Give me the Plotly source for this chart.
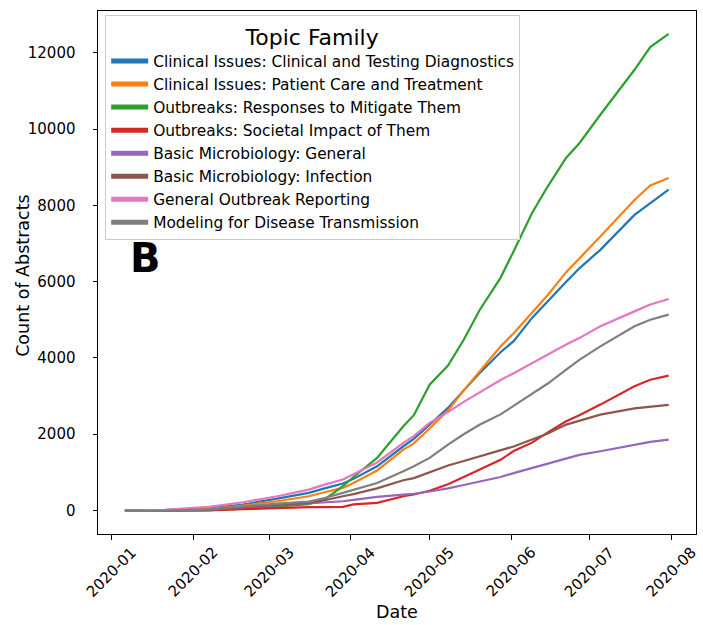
import plotly.graph_objects as go

# ---- data ----
dates = ["2020-01-06", "2020-01-21", "2020-02-07", "2020-02-20", "2020-03-04",
         "2020-03-16", "2020-03-22", "2020-03-29", "2020-04-02", "2020-04-11",
         "2020-04-21", "2020-04-25", "2020-05-01", "2020-05-08", "2020-05-14",
         "2020-05-20", "2020-05-28", "2020-06-02", "2020-06-09", "2020-06-15",
         "2020-06-22", "2020-06-27", "2020-07-05", "2020-07-18", "2020-07-24",
         "2020-07-31"]

series_names = [
    "Clinical Issues: Clinical and Testing Diagnostics",
    "Clinical Issues: Patient Care and Treatment",
    "Outbreaks: Responses to Mitigate Them",
    "Outbreaks: Societal Impact of Them",
    "Basic Microbiology: General",
    "Basic Microbiology: Infection",
    "General Outbreak Reporting",
    "Modeling for Disease Transmission",
]

diagnostics = [0, 10, 60, 157, 314, 463, 580, 707, 830, 1160, 1685, 1880, 2250, 2690,
               3150, 3600, 4150, 4440, 5050, 5500, 6000, 6350, 6834, 7751, 8057, 8410]
patient_care = [0, 5, 40, 131, 244, 375, 480, 594, 720, 1050, 1598, 1760, 2150, 2620,
                3150, 3650, 4300, 4650, 5200, 5650, 6250, 6600, 7183, 8143, 8520, 8716]
responses = [0, 0, 10, 50, 100, 170, 290, 637, 880, 1380, 2209, 2500, 3300, 3800,
             4477, 5250, 6100, 6800, 7800, 8500, 9250, 9628, 10375, 11554, 12150, 12497]
societal = [0, 0, 5, 36, 70, 87, 92, 97, 160, 200, 375, 420, 520, 690,
            880, 1080, 1330, 1560, 1780, 2050, 2340, 2500, 2777, 3257, 3430, 3537]
micro_general = [0, 0, 15, 87, 139, 190, 215, 244, 280, 359, 419, 440, 500, 580,
                 670, 760, 880, 980, 1120, 1230, 1380, 1460, 1554, 1729, 1800, 1860]
micro_infection = [0, 0, 20, 97, 157, 201, 270, 375, 430, 580, 794, 850, 1000, 1180,
                   1300, 1420, 1560, 1680, 1860, 2020, 2253, 2360, 2515, 2680, 2720, 2769]
outbreak_reporting = [0, 15, 97, 218, 375, 550, 680, 812, 950, 1260, 1773, 1950, 2300, 2580,
                      2850, 3100, 3420, 3600, 3870, 4080, 4350, 4520, 4829, 5221, 5400, 5546]
modeling = [0, 0, 30, 113, 183, 236, 330, 463, 540, 720, 1030, 1161, 1380, 1729,
            2000, 2250, 2520, 2750, 3050, 3330, 3694, 3950, 4304, 4829, 5000, 5135]

series_values = [diagnostics, patient_care, responses, societal,
                 micro_general, micro_infection, outbreak_reporting, modeling]

colors = ["#1f77b4", "#ff7f0e", "#2ca02c", "#d62728",
          "#9467bd", "#8c564b", "#e377c2", "#7f7f7f"]

tick_dates = ["2020-01-01", "2020-02-01", "2020-03-01", "2020-04-01",
              "2020-05-01", "2020-06-01", "2020-07-01", "2020-08-01"]
tick_labels = ["2020-01", "2020-02", "2020-03", "2020-04",
               "2020-05", "2020-06", "2020-07", "2020-08"]
y_ticks = [0, 2000, 4000, 6000, 8000, 10000, 12000]

FONT = "DejaVu Sans"

fig = go.Figure()

for name, vals, col in zip(series_names, series_values, colors):
    fig.add_trace(go.Scatter(
        x=dates, y=vals, mode="lines", name=name,
        line=dict(color=col, width=2.2), showlegend=False,
        hoverinfo="skip"))

# legend handles (thicker lines like the reference legend)
for name, col in zip(series_names, colors):
    fig.add_trace(go.Scatter(
        x=[None], y=[None], mode="lines", name=name,
        line=dict(color=col, width=5), showlegend=True))

annotations = []
for d, lab in zip(tick_dates, tick_labels):
    annotations.append(dict(
        x=d, xref="x", y=-0.073, yref="paper", text=lab, showarrow=False,
        textangle=-45, xanchor="center", yanchor="middle",
        font=dict(family=FONT, size=15, color="#000000")))

# axis titles
annotations.append(dict(
    x=0.5, xref="paper", y=-0.1485, yref="paper", text="Date", showarrow=False,
    xanchor="center", yanchor="middle",
    font=dict(family=FONT, size=17.5, color="#000000")))
annotations.append(dict(
    x=-0.1254, xref="paper", y=0.4936, yref="paper", text="Count of Abstracts",
    showarrow=False, textangle=-90, xanchor="center", yanchor="middle",
    font=dict(family=FONT, size=17.5, color="#000000")))

# panel letter
annotations.append(dict(
    x=0.0786, xref="paper", y=0.527, yref="paper", text="<b>B</b>",
    showarrow=False, xanchor="center", yanchor="middle",
    font=dict(family=FONT, size=40, color="#000000")))

fig.update_layout(
    width=703, height=625,
    margin=dict(l=98, r=7, t=11, b=91),
    paper_bgcolor="white", plot_bgcolor="white",
    font=dict(family=FONT, size=15, color="#000000"),
    showlegend=True,
    legend=dict(
        x=0.012, y=0.9924, xanchor="left", yanchor="top",
        bgcolor="rgba(255,255,255,0.8)", bordercolor="#cccccc", borderwidth=1,
        font=dict(family=FONT, size=15.4, color="#000000"),
        title=dict(text="Topic Family", side="top center",
                   font=dict(family=FONT, size=22, color="#000000")),
        itemwidth=37, tracegroupgap=0,
    ),
    annotations=annotations,
)

fig.update_xaxes(
    type="date",
    range=["2019-12-26 18:00", "2020-08-10 10:00"],
    tickvals=tick_dates, showticklabels=False,
    ticks="outside", ticklen=4.5, tickwidth=1, tickcolor="#000000",
    showline=True, linecolor="#000000", linewidth=1, mirror=True,
    showgrid=False, zeroline=False,
)
fig.update_yaxes(
    range=[-615, 13095],
    tickvals=y_ticks, ticktext=[str(v) for v in y_ticks],
    ticks="outside", ticklen=4.5, tickwidth=1, tickcolor="#000000",
    tickfont=dict(family=FONT, size=15, color="#000000"),
    ticklabelstandoff=14,
    showline=True, linecolor="#000000", linewidth=1, mirror=True,
    showgrid=False, zeroline=False,
)

fig.write_html("out.html")
